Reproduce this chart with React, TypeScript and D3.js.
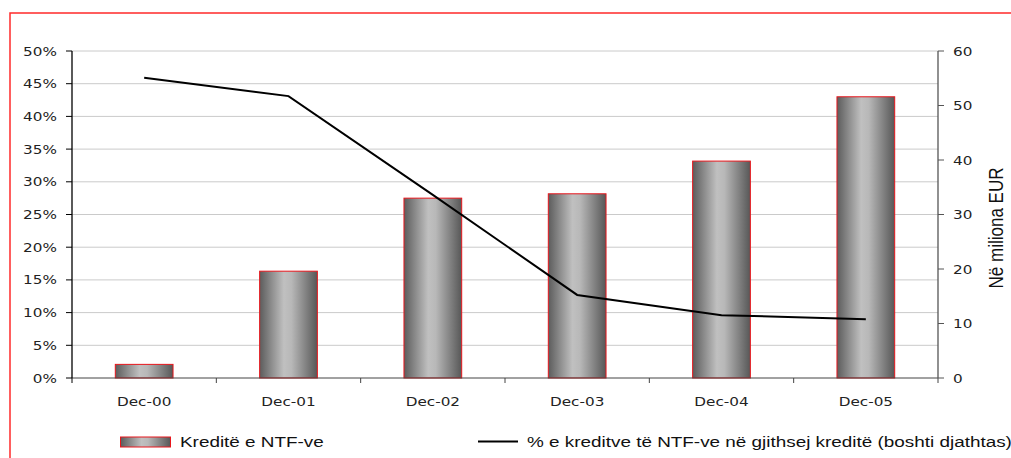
import React from "react";
import * as d3 from "d3";

const categories = ["Dec-00", "Dec-01", "Dec-02", "Dec-03", "Dec-04", "Dec-05"];
const creditValues = [2.5, 19.6, 33.0, 33.8, 39.8, 51.6]; // Kreditë e NTF-ve (million EUR)
const shareValues = [45.9, 43.1, 28.0, 12.7, 9.6, 9.0]; // % of total credit
const leftTicks = [0, 5, 10, 15, 20, 25, 30, 35, 40, 45, 50];
const rightTicks = [0, 10, 20, 30, 40, 50, 60];
const barLegend = "Kreditë e NTF-ve";
const lineLegend = "% e kreditve të NTF-ve në gjithsej kreditë (boshti djathtas)";
const rightTitle = "Në miliona EUR";

const W = 1011;
const H = 458;
const plot = { left: 72, right: 938, top: 51, bottom: 378 };
const SX = 1.22;
const tickFont = "'DejaVu Sans', Verdana, sans-serif";
const legendFont = "'Liberation Sans', Arial, sans-serif";

export default function App() {
  const x = d3.scaleBand<string>().domain(categories).range([plot.left, plot.right]);
  const yL = d3.scaleLinear().domain([0, 50]).range([plot.bottom, plot.top]);
  const yR = d3.scaleLinear().domain([0, 60]).range([plot.bottom, plot.top]);
  const bw = x.bandwidth() * 0.4;
  const cx = (c: string) => (x(c) as number) + x.bandwidth() / 2;

  const line = d3
    .line<number>()
    .x((_, i) => cx(categories[i]))
    .y((d) => yL(d));

  const stretched = (tx: number, ty: number) => `translate(${tx},${ty}) scale(${SX},1)`;

  return (
    <svg
      width={W}
      height={H}
      style={{ position: "absolute", left: 0, top: 0, background: "#fff" }}
    >
      <defs>
        <linearGradient id="barGrad" x1="0" x2="1" y1="0" y2="0">
          <stop offset="0" stopColor="#5c5c5c" />
          <stop offset="0.42" stopColor="#c0c0c0" />
          <stop offset="0.55" stopColor="#b8b8b8" />
          <stop offset="1" stopColor="#575757" />
        </linearGradient>
      </defs>
      {/* outer border */}
      <rect x={10} y={13} width={W + 20} height={H + 20} fill="none" stroke="#ff2a2a" strokeWidth={1.5} />

      {/* gridlines */}
      {leftTicks.slice(1).map((t) => (
        <line key={"g" + t} x1={plot.left} x2={plot.right} y1={yL(t)} y2={yL(t)} stroke="#cacaca" strokeWidth={1} />
      ))}

      {/* bars */}
      {categories.map((c, i) => (
        <rect
          key={c}
          x={cx(c) - bw / 2}
          y={yR(creditValues[i])}
          width={bw}
          height={plot.bottom - yR(creditValues[i])}
          fill="url(#barGrad)"
          stroke="#e8161c"
          strokeWidth={1}
        />
      ))}

      {/* line */}
      <path d={line(shareValues) || ""} fill="none" stroke="#000" strokeWidth={2} />

      {/* x axis */}
      <line x1={plot.left} x2={plot.right} y1={plot.bottom} y2={plot.bottom} stroke="#444" strokeWidth={1} />
      {categories.map((c, i) => (
        <line
          key={"xt" + c}
          x1={(x(c) as number) + x.bandwidth()}
          x2={(x(c) as number) + x.bandwidth()}
          y1={plot.bottom}
          y2={plot.bottom + 5}
          stroke="#444"
        />
      ))}
      <line x1={plot.left} x2={plot.left} y1={plot.bottom} y2={plot.bottom + 5} stroke="#000" />
      {categories.map((c) => (
        <text
          key={"xl" + c}
          transform={stretched(cx(c), 406)}
          textAnchor="middle"
          fontFamily={tickFont}
          fontSize={12.5}
          fill="#222"
        >
          {c}
        </text>
      ))}

      {/* left axis */}
      <line x1={plot.left} x2={plot.left} y1={plot.top} y2={plot.bottom} stroke="#000" strokeWidth={1.3} />
      {leftTicks.map((t) => (
        <g key={"l" + t}>
          <line x1={plot.left - 6} x2={plot.left} y1={yL(t)} y2={yL(t)} stroke="#000" />
          <text
            transform={stretched(57, yL(t) + 4.5)}
            textAnchor="end"
            fontFamily={tickFont}
            fontSize={12.5}
            fill="#222"
          >
            {t + "%"}
          </text>
        </g>
      ))}

      {/* right axis */}
      <line x1={plot.right} x2={plot.right} y1={plot.top} y2={plot.bottom} stroke="#555" strokeWidth={1.3} />
      {rightTicks.map((t) => (
        <g key={"r" + t}>
          <line x1={plot.right} x2={plot.right + 6} y1={yR(t)} y2={yR(t)} stroke="#555" />
          <text
            transform={stretched(953, yR(t) + 4.5)}
            textAnchor="start"
            fontFamily={tickFont}
            fontSize={12.5}
            fill="#222"
          >
            {t}
          </text>
        </g>
      ))}
      <text
        transform={`translate(1003,228) scale(${SX},1) rotate(-90)`}
        textAnchor="middle"
        fontFamily={legendFont}
        fontSize={17}
        fill="#111"
      >
        {rightTitle}
      </text>

      {/* legend */}
      <rect x={120.5} y={437} width={50} height={10} fill="url(#barGrad)" stroke="#e8161c" strokeWidth={1} />
      <text transform={stretched(180, 447)} fontFamily={legendFont} fontSize={15.5} fill="#111">
        {barLegend}
      </text>
      <line x1={478} x2={518} y1={441.5} y2={441.5} stroke="#000" strokeWidth={2} />
      <text transform={stretched(527, 447)} fontFamily={legendFont} fontSize={15.5} fill="#111">
        {lineLegend}
      </text>
    </svg>
  );
}
